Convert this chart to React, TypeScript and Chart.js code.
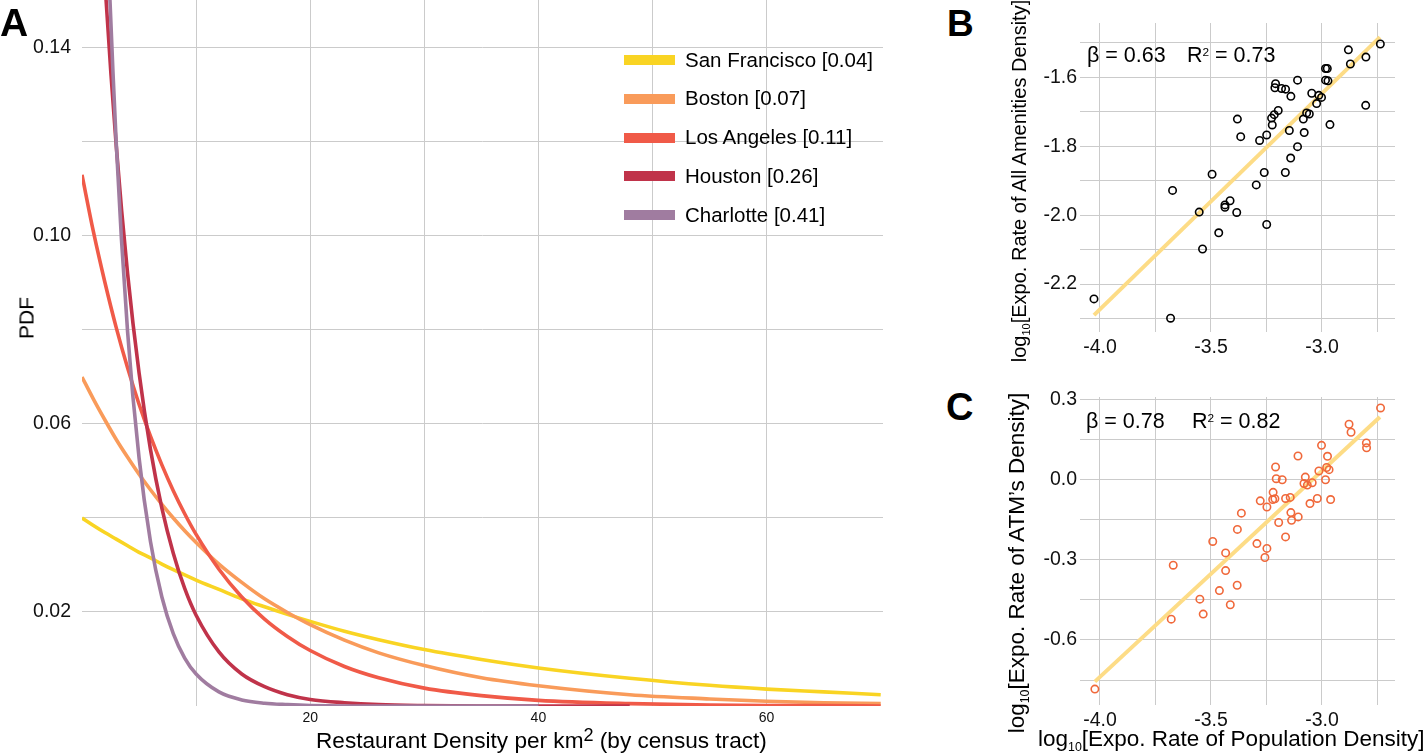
import React, { useEffect, useRef } from "react";
import { Chart, registerables } from "chart.js";

Chart.register(...registerables);

const FONT = '"Liberation Sans", Arial, Helvetica, sans-serif';
const TEXT = "#111111";
const GRID = "#CBCBCB";

// ---------------- Panel A: PDF of restaurant density ----------------
const DENSITY_X = [0, 1, 2, 3, 4, 5, 6, 7, 8, 9, 10, 12, 14, 16, 18, 20, 23, 26, 30, 35, 40, 48, 55, 60, 65, 70];
const CITY_NAMES = ["San Francisco", "Boston", "Los Angeles", "Houston", "Charlotte"];
const CITY_RATES = ["0.04", "0.07", "0.11", "0.26", "0.41"];
const CITY_COLORS = ["#F9D423", "#F99B5A", "#F05A48", "#C0334A", "#A07CA0"];
const PDF_SAN_FRANCISCO = [0.04, 0.0384, 0.0369, 0.0355, 0.0341, 0.0327, 0.0315, 0.0302, 0.029, 0.0279, 0.0268, 0.0248, 0.0228, 0.0211, 0.0195, 0.018, 0.0159, 0.0141, 0.012, 0.0099, 0.0081, 0.0059, 0.0044, 0.0036, 0.003, 0.0024];
const PDF_BOSTON = [0.07, 0.0653, 0.0609, 0.0567, 0.0529, 0.0493, 0.046, 0.0429, 0.04, 0.0373, 0.0348, 0.0302, 0.0263, 0.0228, 0.0199, 0.0173, 0.014, 0.0113, 0.0086, 0.006, 0.0043, 0.0024, 0.0015, 0.001, 0.0007, 0.0005];
const PDF_LOS_ANGELES = [0.113, 0.1009, 0.0902, 0.0805, 0.0719, 0.0642, 0.0574, 0.0513, 0.0458, 0.0409, 0.0365, 0.0291, 0.0232, 0.0185, 0.0148, 0.0118, 0.0084, 0.006, 0.0038, 0.0022, 0.0012, 0.0005, 0.0002, 0.0001, 0.0001, 0.0];
const PDF_HOUSTON = [0.26, 0.2005, 0.1546, 0.1192, 0.0919, 0.0709, 0.0546, 0.0421, 0.0325, 0.025, 0.0193, 0.0115, 0.0068, 0.0041, 0.0024, 0.0014, 0.0007, 0.0003, 0.0001, 0.0, 0.0, 0.0];
const PDF_CHARLOTTE = [0.41, 0.2721, 0.1806, 0.1198, 0.0795, 0.0528, 0.035, 0.0232, 0.0154, 0.0102, 0.0068, 0.003, 0.0013, 0.0006, 0.0003, 0.0001, 0.0, 0.0, 0.0, 0.0, 0.0];
const A_X_TICKS = [10, 20, 30, 40, 50, 60];
const A_X_TICK_LABELS = ["", "20", "", "40", "", "60"];
const A_Y_TICKS = [0.02, 0.04, 0.06, 0.08, 0.1, 0.12, 0.14];
const A_Y_TICK_LABELS = ["0.02", "", "0.06", "", "0.10", "", "0.14"];

// ---------------- Panel B: amenities vs population ----------------
const B_X = [-4.027, -3.682, -3.673, -3.553, -3.538, -3.495, -3.465, -3.437, -3.437, -3.414, -3.384, -3.381, -3.366, -3.296, -3.281, -3.26, -3.249, -3.249, -3.224, -3.227, -3.215, -3.197, -3.209, -3.212, -3.182, -3.164, -3.14, -3.147, -3.165, -3.141, -3.11, -3.11, -3.08, -3.084, -3.069, -3.057, -3.046, -3.024, -3.014, -3.002, -2.984, -2.976, -2.984, -2.973, -2.964, -2.881, -2.872, -2.802, -2.803, -2.737];
const B_Y = [-2.243, -2.299, -1.928, -1.991, -2.098, -1.881, -2.051, -1.977, -1.97, -1.958, -1.992, -1.721, -1.772, -1.912, -1.783, -1.876, -2.027, -1.767, -1.738, -1.718, -1.708, -1.696, -1.618, -1.63, -1.632, -1.634, -1.655, -1.754, -1.876, -1.834, -1.801, -1.608, -1.76, -1.721, -1.703, -1.706, -1.646, -1.676, -1.652, -1.658, -1.574, -1.574, -1.608, -1.61, -1.737, -1.52, -1.561, -1.541, -1.681, -1.503];
const B_FIT_X = [-4.027, -2.739];
const B_FIT_Y = [-2.29, -1.483];
const B_X_TICKS = [-4.0, -3.75, -3.5, -3.25, -3.0, -2.75];
const B_X_TICK_LABELS = ["-4.0", "", "-3.5", "", "-3.0", ""];
const B_Y_TICKS = [-2.3, -2.2, -2.1, -2.0, -1.9, -1.8, -1.7, -1.6, -1.5];
const B_Y_TICK_LABELS = ["", "-2.2", "", "-2.0", "", "-1.8", "", "-1.6", ""];

// ---------------- Panel C: ATMs vs population ----------------
const C_X = [-4.023, -3.679, -3.67, -3.55, -3.535, -3.492, -3.462, -3.434, -3.434, -3.413, -3.382, -3.381, -3.363, -3.293, -3.278, -3.257, -3.248, -3.248, -3.222, -3.22, -3.212, -3.209, -3.206, -3.179, -3.164, -3.143, -3.14, -3.137, -3.195, -3.164, -3.107, -3.108, -3.075, -3.081, -3.066, -3.054, -3.044, -3.021, -3.014, -3.002, -2.984, -2.979, -2.975, -2.968, -2.961, -2.878, -2.869, -2.8, -2.799, -2.736];
const C_Y = [-0.784, -0.522, -0.32, -0.447, -0.503, -0.231, -0.415, -0.274, -0.34, -0.468, -0.395, -0.186, -0.125, -0.239, -0.079, -0.291, -0.257, -0.102, -0.074, -0.047, -0.071, 0.048, 0.004, 0.0, -0.07, -0.066, -0.123, -0.152, -0.16, -0.214, -0.139, 0.089, 0.01, -0.014, -0.02, -0.089, -0.011, -0.07, 0.033, 0.129, 0.0, 0.046, 0.088, 0.038, -0.074, 0.208, 0.178, 0.138, 0.12, 0.269];
const C_FIT_X = [-4.023, -2.739];
const C_FIT_Y = [-0.756, 0.235];
const C_X_TICKS = [-4.0, -3.75, -3.5, -3.25, -3.0, -2.75];
const C_X_TICK_LABELS = ["-4.0", "", "-3.5", "", "-3.0", ""];
const C_Y_TICKS = [-0.75, -0.6, -0.45, -0.3, -0.15, 0.0, 0.15, 0.3];
const C_Y_TICK_LABELS = ["", "-0.6", "", "-0.3", "", "0.0", "", "0.3"];

const FIT_COLOR = "#FDDC86";
const C_POINT_COLOR = "#F0683A";

// ---------------- helpers ----------------
const setTicks = (values: number[]) => (scale: any) => {
  scale.ticks = values.map((v) => ({ value: v }));
};
const fixSize = (prop: "width" | "height", size: number) => (scale: any) => {
  scale[prop] = size;
  scale.paddingTop = 0;
  scale.paddingBottom = 0;
  scale.paddingLeft = 0;
  scale.paddingRight = 0;
};

function axis(opts: {
  min: number;
  max: number;
  ticks: number[];
  labels: string[];
  size: number;
  prop: "width" | "height";
  fontSize: number;
  padding: number;
}) {
  return {
    type: "linear",
    min: opts.min,
    max: opts.max,
    afterBuildTicks: setTicks(opts.ticks),
    afterFit: fixSize(opts.prop, opts.size),
    ticks: {
      callback: (_v: any, i: number) => opts.labels[i],
      autoSkip: false,
      maxRotation: 0,
      minRotation: 0,
      padding: opts.padding,
      color: TEXT,
      font: { family: FONT, size: opts.fontSize },
    },
    grid: { color: GRID, lineWidth: 1, drawTicks: false },
    border: { display: false },
  };
}

function ChartBox({ left, top, width, height, makeConfig }: any) {
  const ref = useRef<HTMLCanvasElement>(null);
  useEffect(() => {
    const chart = new Chart(ref.current as HTMLCanvasElement, makeConfig());
    return () => chart.destroy();
  }, []);
  return (
    <canvas
      ref={ref}
      width={width}
      height={height}
      style={{ position: "absolute", left, top, width, height }}
    />
  );
}

const baseOptions = {
  responsive: false,
  maintainAspectRatio: false,
  animation: false,
  devicePixelRatio: 1,
  events: [],
  plugins: { legend: { display: false }, tooltip: { enabled: false }, title: { display: false } },
};

function configA() {
  const series = [PDF_SAN_FRANCISCO, PDF_BOSTON, PDF_LOS_ANGELES, PDF_HOUSTON, PDF_CHARLOTTE];
  return {
    type: "line",
    data: {
      datasets: series.map((vals, i) => ({
        label: CITY_NAMES[i],
        data: vals.map((y, j) => ({ x: DENSITY_X[j], y })),
        borderColor: CITY_COLORS[i],
        backgroundColor: CITY_COLORS[i],
        borderWidth: 3.6,
        pointRadius: 0,
        fill: false,
        cubicInterpolationMode: "monotone",
        order: series.length - 1 - i,
      })),
    },
    options: {
      ...baseOptions,
      layout: { padding: { left: 0, top: 0, right: 17, bottom: 0 } },
      scales: {
        x: axis({ min: 0, max: 70.2, ticks: A_X_TICKS, labels: A_X_TICK_LABELS, size: 49, prop: "height", fontSize: 14, padding: 3.6 }),
        y: axis({ min: 0, max: 0.1502, ticks: A_Y_TICKS, labels: A_Y_TICK_LABELS, size: 82, prop: "width", fontSize: 19.5, padding: 11 }),
      },
    },
  };
}

function scatterConfig(xs: number[], ys: number[], fx: number[], fy: number[], pointColor: string, yAxis: any, xAxis: any, padTop: number) {
  return {
    type: "scatter",
    data: {
      datasets: [
        {
          type: "scatter",
          data: xs.map((x, i) => ({ x, y: ys[i] })),
          borderColor: pointColor,
          backgroundColor: "rgba(0,0,0,0)",
          pointBorderColor: pointColor,
          pointBackgroundColor: "rgba(0,0,0,0)",
          pointRadius: 3.7,
          borderWidth: 1.6,
          pointBorderWidth: 1.6,
          order: 0,
        },
        {
          type: "line",
          data: fx.map((x, i) => ({ x, y: fy[i] })),
          borderColor: FIT_COLOR,
          backgroundColor: FIT_COLOR,
          borderWidth: 4,
          pointRadius: 0,
          fill: false,
          order: 1,
        },
      ],
    },
    options: {
      ...baseOptions,
      layout: { padding: { left: 0, top: padTop, right: 33, bottom: 0 } },
      scales: { x: xAxis, y: yAxis },
    },
  };
}

function configB() {
  return scatterConfig(
    B_X, B_Y, B_FIT_X, B_FIT_Y, "#000000",
    axis({ min: -2.339, max: -1.442, ticks: B_Y_TICKS, labels: B_Y_TICK_LABELS, size: 50, prop: "width", fontSize: 19.5, padding: 3 }),
    axis({ min: -4.09, max: -2.671, ticks: B_X_TICKS, labels: B_X_TICK_LABELS, size: 38, prop: "height", fontSize: 19.5, padding: 3.6 }),
    23
  );
}

function configC() {
  return scatterConfig(
    C_X, C_Y, C_FIT_X, C_FIT_Y, C_POINT_COLOR,
    axis({ min: -0.8435, max: 0.31, ticks: C_Y_TICKS, labels: C_Y_TICK_LABELS, size: 50, prop: "width", fontSize: 19.5, padding: 3 }),
    axis({ min: -4.09, max: -2.671, ticks: C_X_TICKS, labels: C_X_TICK_LABELS, size: 50, prop: "height", fontSize: 19.5, padding: 3.6 }),
    27
  );
}

// ---------------- text overlays ----------------
function Txt({ x, cy, fs, children, weight = 400, color = "#000" }: any) {
  return (
    <div
      style={{
        position: "absolute",
        left: x,
        top: cy - fs / 2,
        fontSize: fs,
        lineHeight: fs + "px",
        fontFamily: FONT,
        fontWeight: weight,
        color,
        whiteSpace: "nowrap",
      }}
    >
      {children}
    </div>
  );
}

function VTxt({ cx, cy, fs, children }: any) {
  return (
    <div
      style={{
        position: "absolute",
        left: cx,
        top: cy,
        transform: "translate(-50%, -50%) rotate(-90deg)",
        fontSize: fs,
        lineHeight: fs + "px",
        fontFamily: FONT,
        color: "#000",
        whiteSpace: "nowrap",
      }}
    >
      {children}
    </div>
  );
}

const Sub = ({ children }: any) => (
  <span style={{ fontSize: "0.55em", verticalAlign: "-0.4em", lineHeight: 0 }}>{children}</span>
);
const Sup = ({ children, size = "0.55em", raise = "0.55em" }: any) => (
  <span style={{ fontSize: size, verticalAlign: raise, lineHeight: 0 }}>{children}</span>
);

const LEGEND_ROWS_Y = [60, 98.5, 137.5, 176, 215];

export default function App() {
  return (
    <div
      style={{
        position: "fixed",
        left: 0,
        top: 0,
        width: 1428,
        height: 755,
        overflow: "hidden",
        background: "#ffffff",
      }}
    >
      <ChartBox left={0} top={0} width={900} height={755} makeConfig={configA} />
      <ChartBox left={1030} top={0} width={398} height={370} makeConfig={configB} />
      <ChartBox left={1030} top={370} width={398} height={385} makeConfig={configC} />

      {/* Panel letters */}
      <Txt x={0} cy={22.5} fs={39} weight={900}>A</Txt>
      <Txt x={947} cy={23.5} fs={37} weight={900}>B</Txt>
      <Txt x={946} cy={407} fs={38} weight={900}>C</Txt>

      {/* Panel A titles */}
      <VTxt cx={25.5} cy={318} fs={21}>PDF</VTxt>
      <Txt x={316} cy={741} fs={22.6}>
        Restaurant Density per km<Sup size="0.8em" raise="0.4em">2</Sup> (by census tract)
      </Txt>

      {/* Panel A legend */}
      {CITY_NAMES.map((name, i) => (
        <React.Fragment key={name}>
          <div
            style={{
              position: "absolute",
              left: 624,
              top: LEGEND_ROWS_Y[i] - 5,
              width: 51,
              height: 10,
              background: CITY_COLORS[i],
            }}
          />
          <Txt x={685} cy={LEGEND_ROWS_Y[i]} fs={20.5}>
            {name} [{CITY_RATES[i]}]
          </Txt>
        </React.Fragment>
      ))}

      {/* Panel B texts */}
      <VTxt cx={1019} cy={181} fs={20}>
        log<Sub>10</Sub>[Expo. Rate of All Amenities Density]
      </VTxt>
      <Txt x={1087} cy={56} fs={21.5}>β = 0.63</Txt>
      <Txt x={1187} cy={56} fs={21.5}>
        R<Sup>2</Sup> = 0.73
      </Txt>

      {/* Panel C texts */}
      <VTxt cx={1017} cy={563} fs={22.5}>
        log<Sub>10</Sub>[Expo. Rate of ATM’s Density]
      </VTxt>
      <Txt x={1086} cy={421.5} fs={21.5}>β = 0.78</Txt>
      <Txt x={1192} cy={421.5} fs={21.5}>
        R<Sup>2</Sup> = 0.82
      </Txt>
      <Txt x={1038} cy={739} fs={22.5}>
        log<Sub>10</Sub>[Expo. Rate of Population Density]
      </Txt>
    </div>
  );
}
